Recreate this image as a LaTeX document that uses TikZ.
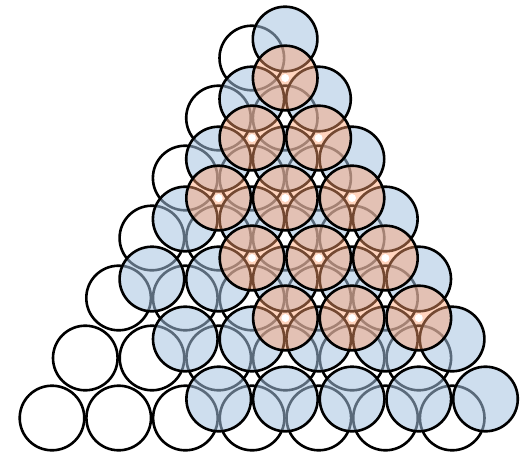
\documentclass[tikz,border=0pt]{standalone}
\usepackage{xcolor}
\usepackage{tikz}

\definecolor{layerblue}{RGB}{165,194,224}
\definecolor{layerpink}{RGB}{255,160,110}
\newcommand{\ballrad}{32.3}

\begin{document}
\begin{tikzpicture}[x=1pt, y=-1pt,
    ball/.style={draw=black, line width=2.6pt},
    layerA/.style={ball},
    layerB/.style={ball, fill=layerblue, fill opacity=0.55},
    layerC/.style={ball, fill=layerpink, fill opacity=0.45},
    hole/.style={fill=white}]
  \useasboundingbox (0,0) rectangle (520,459);
  \foreach \j in {0,...,6} {
    \pgfmathtruncatemacro{\imax}{6-\j}
    \foreach \i in {0,...,\imax}
      \draw[layerA] (52+66.7*\i+33.3*\j, 418-60*\j) circle[radius=\ballrad];
  }
  \foreach \j/\ilo in {0/2,1/1,2/0,3/0,4/0,5/0,6/0} {
    \pgfmathtruncatemacro{\imax}{6-\j}
    \foreach \i in {\ilo,...,\imax}
      \draw[layerB] (85.3+66.7*\i+33.3*\j, 399-60*\j) circle[radius=\ballrad];
  }
  \foreach \j/\ilo in {1/3,2/2,3/1,4/1,5/1} {
    \pgfmathtruncatemacro{\imax}{6-\j}
    \foreach \i in {\ilo,...,\imax} {
      \draw[layerC] (52+66.7*\i+33.3*\j, 378-60*\j) circle[radius=\ballrad];
      \fill[hole] (52+66.7*\i+33.3*\j, 378-60*\j) circle[radius=4];
    }
  }
\end{tikzpicture}
\end{document}
